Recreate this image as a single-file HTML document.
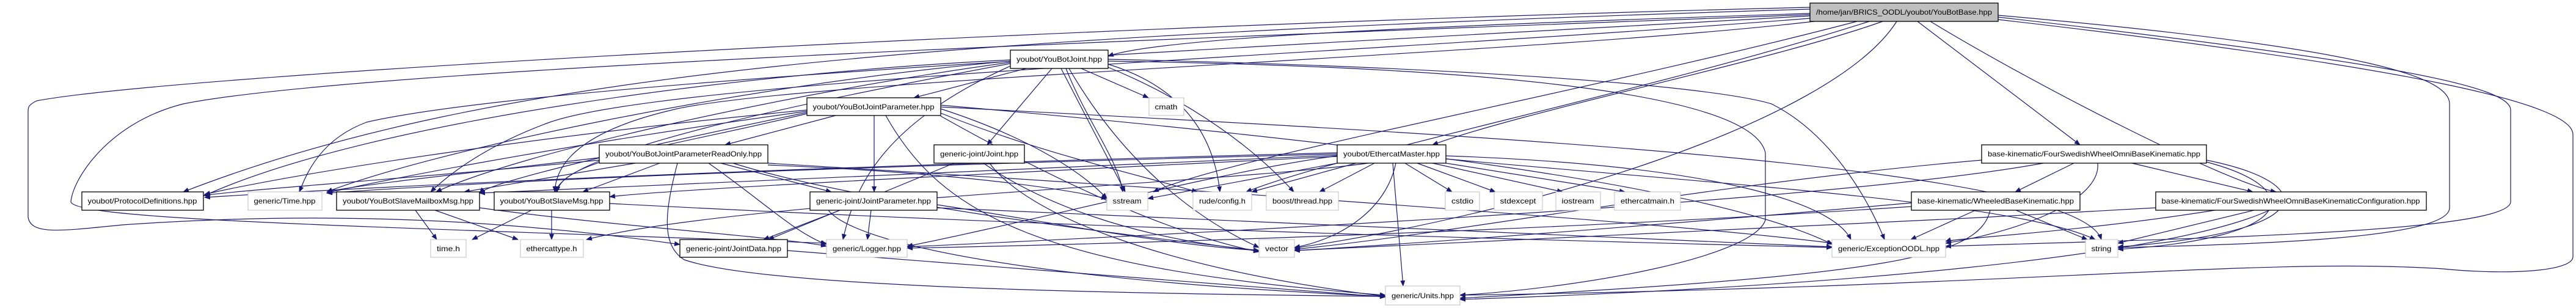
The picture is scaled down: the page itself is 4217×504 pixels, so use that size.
<!DOCTYPE html>
<html><head><meta charset="utf-8"><style>
html,body{margin:0;padding:0;background:#fff;}
svg{display:block}
text{font-family:"Liberation Sans",sans-serif;font-size:12px;fill:#000}
.e{fill:none;stroke:#191970;stroke-width:1.2}
.b{fill:#fff;stroke:#000;stroke-width:1.3}
.g{fill:#fff;stroke:#bfbfbf;stroke-width:1}
</style></head><body>
<svg width="4217" height="504" viewBox="0 0 4217 504" xmlns="http://www.w3.org/2000/svg">
<defs><marker id="a" markerWidth="10" markerHeight="8" refX="9" refY="4" orient="auto" markerUnits="userSpaceOnUse"><path d="M0,0 L10,4 L0,8 z" fill="#191970"/></marker></defs>
<g class="e" marker-end="url(#a)">
<!-- root -->
<path d="M2963,22 C2400,40 1900,60 1814,92"/>
<path d="M2963,15 C1500,60 800,120 300,314"/>
<path d="M2963,12 C1800,40 300,120 60,165 C46,172 46,175 46,185 L46,355 C50,385 100,378 200,368 C600,340 900,370 1113,400"/>
<path d="M2963,24 C2000,60 600,110 300,170 C180,200 120,290 116,330 C120,360 600,370 1353,398"/>
<path d="M2963,26 C2200,70 900,130 600,200 C520,230 500,290 490,314"/>
<path d="M2963,30 C2200,90 1100,130 900,200 C790,240 730,290 705,314"/>
<path d="M2970,35 C2500,90 1300,130 1100,180 C930,220 910,280 908,314"/>
<path d="M3040,35 C2600,150 2000,260 1888,314"/>
<path d="M3060,35 C2700,150 2200,250 2040,314"/>
<path d="M3082,35 C2900,100 2500,180 2345,237"/>
<path d="M3105,35 C3000,200 2500,350 2119,406"/>
<path d="M3139,35 L3405,237"/>
<path d="M3160,35 C3350,150 3650,300 3726,314"/>
<path d="M3271,25 C3900,80 4010,130 4010,170 L4010,340 C4010,390 3700,400 3467,405"/>
<path d="M3271,28 C3900,100 4110,140 4110,180 L4110,330 C4110,380 3600,390 3185,403"/>
<path d="M3271,32 C3950,110 4212,170 4212,220 L4212,420 C4212,445 4100,450 4000,440 C3700,420 3300,470 2390,483"/>
<!-- YouBotJoint -->
<path d="M1680,112 L1496,160"/>
<path d="M1722,112 L1616,237"/>
<path d="M1770,112 L1880,160"/>
<path d="M1737,112 L1842,314"/>
<path d="M1745,112 C1780,200 1830,260 1838,314"/>
<path d="M1750,112 C1830,250 1940,350 2061,405"/>
<path d="M1814,105 C1960,150 1990,250 1997,314"/>
<path d="M1814,110 C1960,170 2060,250 2118,314"/>
<path d="M1814,97 C2400,110 2800,140 2900,170 C3000,220 3060,330 3085,392"/>
<path d="M1814,100 C2500,110 2870,160 2890,250 L2890,360 C2870,420 2600,470 2390,483"/>
<path d="M1654,98 C1200,120 600,200 335,320"/>
<path d="M1654,100 C1200,140 700,250 535,314"/>
<path d="M1654,102 C1300,150 850,250 714,314"/>
<path d="M1654,104 C1300,170 920,250 910,314"/>
<path d="M1654,108 C1450,200 1400,300 1380,392"/>
<!-- YJP -->
<path d="M1368,189 L1187,237"/>
<path d="M1431,189 L1431,314"/>
<path d="M1321,180 C900,220 500,280 335,318"/>
<path d="M1321,182 C900,240 600,300 535,316"/>
<path d="M1321,184 C1000,250 800,300 785,316"/>
<path d="M1321,186 C1100,240 920,260 912,314"/>
<path d="M1540,178 C1700,230 1780,290 1812,325"/>
<path d="M1540,185 C1700,250 1880,290 1960,314"/>
<path d="M1540,190 C1700,280 1900,380 2061,412"/>
<path d="M1450,189 C1540,350 1700,440 2268,483"/>
<path d="M1540,172 C2200,230 2800,300 3000,400"/>
<path d="M1540,175 C2400,220 3400,270 3440,392"/>
<!-- YJPRO -->
<path d="M981,258 C800,280 600,300 535,314"/>
<path d="M1040,267 L760,314"/>
<path d="M1080,267 L954,314"/>
<path d="M981,262 C700,290 400,310 333,320"/>
<path d="M1180,267 L1361,314"/>
<path d="M1160,267 C1250,330 1300,380 1353,400"/>
<path d="M1109,267 C1090,340 1080,400 1120,425 C1250,470 1800,480 2268,485"/>
<path d="M1200,267 C1400,330 1800,380 2061,410"/>
<path d="M1257,267 C1800,300 2700,360 3000,398"/>
<path d="M1257,270 C1500,280 1700,300 1812,325"/>
<!-- Joint -->
<path d="M1562,267 L1258,392"/>
<path d="M1610,267 C1700,330 1850,390 2061,410"/>
<path d="M1620,267 C1680,350 1900,440 2268,485"/>
<!-- EM -->
<path d="M2189,267 L1879,325"/>
<path d="M2220,267 L2049,314"/>
<path d="M2250,267 L2160,314"/>
<path d="M2300,267 L2377,314"/>
<path d="M2320,267 L2448,314"/>
<path d="M2345,267 L2558,314"/>
<path d="M2367,267 L2660,314"/>
<path d="M2285,267 C2270,340 2200,390 2119,405"/>
<path d="M2280,267 L2297,468"/>
<path d="M2189,255 C2000,280 1700,360 1485,403"/>
<path d="M2189,252 C1500,270 900,290 535,316"/>
<path d="M2189,254 C1500,280 1100,300 785,316"/>
<path d="M2189,256 C1500,290 1100,310 998,322"/>
<path d="M2189,250 C1400,270 700,300 335,323"/>
<path d="M2240,267 C2000,300 1200,330 960,392"/>
<path d="M2367,255 C2800,270 3000,330 3030,392"/>
<path d="M2367,260 C2800,300 3300,330 3430,392"/>
<!-- slave msgs -->
<path d="M680,344 L715,392"/>
<path d="M712,344 L848,392"/>
<path d="M870,344 L773,392"/>
<path d="M903,344 L903,392"/>
<path d="M785,340 C1000,370 1300,390 1353,403"/>
<path d="M998,333 C1700,370 2400,390 2999,405"/>
<path d="M1289,410 C1700,440 2100,470 2268,486"/>
<!-- JP -->
<path d="M1426,344 L1420,392"/>
<path d="M1375,344 L1250,392"/>
<path d="M1356,344 C1400,400 1700,460 2268,485"/>
<path d="M1534,335 C1700,360 1900,400 2061,410"/>
<path d="M1534,340 C2200,370 2700,390 2999,404"/>
<!-- FSW -->
<path d="M3395,267 L3299,314"/>
<path d="M3490,267 L3688,314"/>
<path d="M3434,267 C3440,330 3300,380 3185,398"/>
<path d="M3612,262 C3800,300 3800,380 3467,404"/>
<path d="M3612,265 C3780,310 3760,390 3467,408"/>
<path d="M3244,262 C2800,300 2400,380 2119,408"/>
<path d="M3345,267 C3000,330 2000,380 1485,404"/>
<!-- WBK -->
<path d="M3234,344 L3128,392"/>
<path d="M3300,344 L3417,392"/>
<path d="M3258,344 C3240,420 3100,450 2390,488"/>
<path d="M3129,332 C2700,370 2300,400 2119,410"/>
<path d="M3129,338 C2500,380 1800,400 1485,406"/>
<!-- FSWC -->
<path d="M3626,344 C3400,380 3200,390 3185,395"/>
<path d="M3690,344 L3467,398"/>
<path d="M3715,344 C3550,420 3000,470 2390,490"/>
<path d="M3529,340 C3000,370 2400,400 2119,410"/>
</g>
<!-- nodes -->
<rect x="2963" y="5" width="308" height="30" fill="#bfbfbf" stroke="#000" stroke-width="1.3"/>
<text x="3117" y="24" text-anchor="middle" textLength="288" lengthAdjust="spacingAndGlyphs">/home/jan/BRICS_OODL/youbot/YouBotBase.hpp</text>
<g>
<rect class="b" x="1654" y="82" width="160" height="30"/><text x="1734" y="101" text-anchor="middle" textLength="140" lengthAdjust="spacingAndGlyphs">youbot/YouBotJoint.hpp</text>
<rect class="b" x="1321" y="160" width="219" height="29"/><text x="1430" y="179" text-anchor="middle" textLength="199" lengthAdjust="spacingAndGlyphs">youbot/YouBotJointParameter.hpp</text>
<rect class="g" x="1881" y="160" width="57" height="29"/><text x="1909" y="179" text-anchor="middle" textLength="37" lengthAdjust="spacingAndGlyphs">cmath</text>
<rect class="b" x="981" y="237" width="276" height="30"/><text x="1119" y="256" text-anchor="middle" textLength="256" lengthAdjust="spacingAndGlyphs">youbot/YouBotJointParameterReadOnly.hpp</text>
<rect class="b" x="1529" y="237" width="148" height="30"/><text x="1603" y="256" text-anchor="middle" textLength="128" lengthAdjust="spacingAndGlyphs">generic-joint/Joint.hpp</text>
<rect class="b" x="2189" y="237" width="178" height="30"/><text x="2278" y="256" text-anchor="middle" textLength="158" lengthAdjust="spacingAndGlyphs">youbot/EthercatMaster.hpp</text>
<rect class="b" x="3244" y="237" width="368" height="30"/><text x="3428" y="256" text-anchor="middle" textLength="348" lengthAdjust="spacingAndGlyphs">base-kinematic/FourSwedishWheelOmniBaseKinematic.hpp</text>
<rect class="b" x="134" y="314" width="199" height="30"/><text x="233" y="333" text-anchor="middle" textLength="179" lengthAdjust="spacingAndGlyphs">youbot/ProtocolDefinitions.hpp</text>
<rect class="g" x="406" y="314" width="121" height="30"/><text x="466" y="333" text-anchor="middle" textLength="101" lengthAdjust="spacingAndGlyphs">generic/Time.hpp</text>
<rect class="b" x="551" y="314" width="234" height="30"/><text x="668" y="333" text-anchor="middle" textLength="214" lengthAdjust="spacingAndGlyphs">youbot/YouBotSlaveMailboxMsg.hpp</text>
<rect class="b" x="809" y="314" width="189" height="30"/><text x="903" y="333" text-anchor="middle" textLength="169" lengthAdjust="spacingAndGlyphs">youbot/YouBotSlaveMsg.hpp</text>
<rect class="b" x="1326" y="314" width="208" height="30"/><text x="1430" y="333" text-anchor="middle" textLength="188" lengthAdjust="spacingAndGlyphs">generic-joint/JointParameter.hpp</text>
<rect class="g" x="1812" y="314" width="67" height="30"/><text x="1845" y="333" text-anchor="middle" textLength="47" lengthAdjust="spacingAndGlyphs">sstream</text>
<rect class="g" x="1953" y="314" width="96" height="30"/><text x="2001" y="333" text-anchor="middle" textLength="76" lengthAdjust="spacingAndGlyphs">rude/config.h</text>
<rect class="g" x="2073" y="314" width="118" height="30"/><text x="2132" y="333" text-anchor="middle" textLength="98" lengthAdjust="spacingAndGlyphs">boost/thread.hpp</text>
<rect class="g" x="2366" y="314" width="56" height="30"/><text x="2394" y="333" text-anchor="middle" textLength="36" lengthAdjust="spacingAndGlyphs">cstdio</text>
<rect class="g" x="2446" y="314" width="79" height="30"/><text x="2485" y="333" text-anchor="middle" textLength="59" lengthAdjust="spacingAndGlyphs">stdexcept</text>
<rect class="g" x="2547" y="314" width="73" height="30"/><text x="2583" y="333" text-anchor="middle" textLength="53" lengthAdjust="spacingAndGlyphs">iostream</text>
<rect class="g" x="2643" y="314" width="108" height="30"/><text x="2697" y="333" text-anchor="middle" textLength="88" lengthAdjust="spacingAndGlyphs">ethercatmain.h</text>
<rect class="b" x="3129" y="314" width="276" height="30"/><text x="3267" y="333" text-anchor="middle" textLength="256" lengthAdjust="spacingAndGlyphs">base-kinematic/WheeledBaseKinematic.hpp</text>
<rect class="b" x="3529" y="314" width="443" height="30"/><text x="3750" y="333" text-anchor="middle" textLength="423" lengthAdjust="spacingAndGlyphs">base-kinematic/FourSwedishWheelOmniBaseKinematicConfiguration.hpp</text>
<rect class="g" x="705" y="392" width="58" height="29"/><text x="734" y="411" text-anchor="middle" textLength="38" lengthAdjust="spacingAndGlyphs">time.h</text>
<rect class="g" x="852" y="392" width="103" height="29"/><text x="903" y="411" text-anchor="middle" textLength="83" lengthAdjust="spacingAndGlyphs">ethercattype.h</text>
<rect class="b" x="1113" y="392" width="176" height="29"/><text x="1201" y="411" text-anchor="middle" textLength="156" lengthAdjust="spacingAndGlyphs">generic-joint/JointData.hpp</text>
<rect class="g" x="1353" y="392" width="132" height="29"/><text x="1419" y="411" text-anchor="middle" textLength="112" lengthAdjust="spacingAndGlyphs">generic/Logger.hpp</text>
<rect class="g" x="2061" y="392" width="58" height="29"/><text x="2090" y="411" text-anchor="middle" textLength="38" lengthAdjust="spacingAndGlyphs">vector</text>
<rect class="g" x="2999" y="392" width="186" height="29"/><text x="3092" y="411" text-anchor="middle" textLength="166" lengthAdjust="spacingAndGlyphs">generic/ExceptionOODL.hpp</text>
<rect class="g" x="3414" y="392" width="53" height="29"/><text x="3440" y="411" text-anchor="middle" textLength="33" lengthAdjust="spacingAndGlyphs">string</text>
<rect class="g" x="2268" y="468" width="122" height="31"/><text x="2329" y="488" text-anchor="middle" textLength="102" lengthAdjust="spacingAndGlyphs">generic/Units.hpp</text>
</g>
</svg>
</body></html>
